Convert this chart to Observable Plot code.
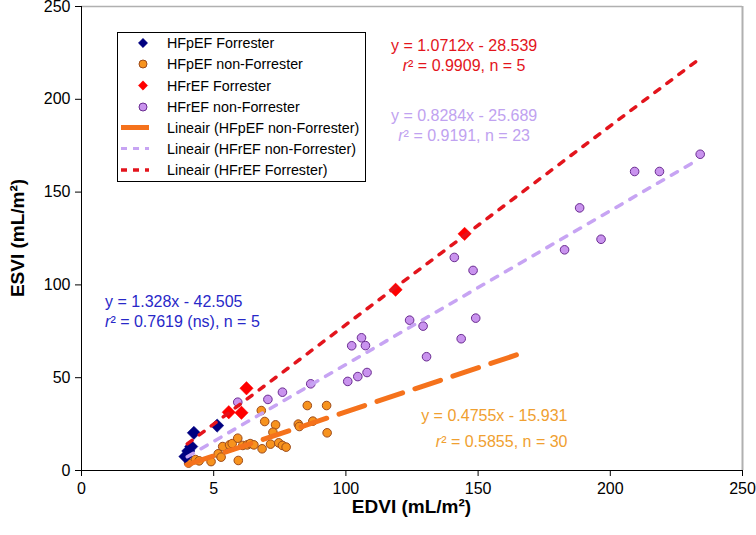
<!DOCTYPE html>
<html>
<head>
<meta charset="utf-8">
<script src="https://cdn.jsdelivr.net/npm/d3@7"></script>
<script src="https://cdn.jsdelivr.net/npm/@observablehq/plot@0.6"></script>
<style>
  html, body { margin: 0; padding: 0; background: #fff; }
  #chart { width: 756px; height: 535px; }
</style>
</head>
<body>
<div id="chart"></div>
<script>
// ---- Data ----
const xTicks = [0, 50, 100, 150, 200, 250];
const xTickLabels = ["0", "5", "100", "150", "200", "250"];
const yTicks = [0, 50, 100, 150, 200, 250];
const yTickLabels = ["0", "50", "100", "150", "200", "250"];

const seriesNames = ["HFpEF Forrester", "HFpEF non-Forrester", "HFrEF Forrester", "HFrEF non-Forrester"];

const hfpefForresterX = [39.3, 40.4, 41.5, 42.5, 51.3];
const hfpefForresterY = [7.5, 10.5, 12.9, 20.3, 24.2];

const hfpefNonX = [40.5, 43.1, 44.5, 49.0, 51.7, 52.8, 53.4, 56.0, 57.0, 59.1, 59.3, 61.0, 62.7, 63.8, 65.2,
                   68.3, 71.5, 74.6, 76.0, 77.4, 68.0, 69.3, 73.4, 72.4, 82.0, 82.4, 85.4, 87.5, 92.7, 92.9];
const hfpefNonY = [4.0, 5.9, 5.2, 4.8, 9.0, 7.2, 12.9, 13.8, 14.5, 17.4, 5.4, 13.5, 13.8, 14.5, 13.8,
                   11.7, 14.2, 14.9, 13.5, 12.6, 32.3, 26.4, 24.6, 20.6, 25.0, 23.7, 35.0, 26.6, 35.0, 20.3];

const hfrefForresterX = [55.7, 60.5, 62.4, 118.8, 144.9];
const hfrefForresterY = [31.4, 31.1, 44.3, 97.4, 127.5];

const hfrefNonX = [59.1, 70.5, 76.0, 86.7, 100.7, 104.5, 108.0, 102.2, 105.9, 107.4, 130.5, 124.1,
                   129.2, 143.6, 149.1, 141.0, 148.1, 188.4, 182.7, 196.5, 209.2, 218.6, 234.0];
const hfrefNonY = [36.8, 38.3, 42.2, 46.7, 48.0, 50.6, 52.8, 67.2, 71.5, 67.3, 61.3, 81.0,
                   77.8, 71.0, 82.1, 114.8, 107.8, 141.5, 118.9, 124.6, 161.1, 161.1, 170.4];

// Trend line end points
const trendNames = ["Lineair (HFpEF non-Forrester)", "Lineair (HFrEF non-Forrester)", "Lineair (HFrEF Forrester)"];
const trendX0 = [40, 40, 40];
const trendX1 = [165, 233, 233];
const trendY0 = [3.1, 7.4, 14.3];
const trendY1 = [62.5, 167.3, 221.0];

const eqLines = [
  ["y = 1.0712x - 28.539", "= 0.9909, n = 5"],
  ["y = 0.8284x - 25.689", "= 0.9191, n = 23"],
  ["y = 1.328x - 42.505", "= 0.7619 (ns), n = 5"],
  ["y = 0.4755x - 15.931", "= 0.5855, n = 30"]
];

// ---- Styles ----
const C = {
  navy: "#000080",
  orangeFill: "#f7931e", orangeStroke: "#9c4a1a",
  red: "#ff0000",
  purpleFill: "#c993ee", purpleStroke: "#6a2c91",
  lineOrange: "#f5721c", lineLav: "#c7a4f3", lineRed: "#e3141c",
  txtRed: "#e3141c", txtLav: "#c0a2f0", txtBlue: "#2828c8", txtOrange: "#f0a030"
};
const FONT = "'Liberation Sans', Arial, Helvetica, sans-serif";

const pts = (xs, ys) => xs.map((x, i) => ({x, y: ys[i]}));
const seg = (i) => [{x: trendX0[i], y: trendY0[i]}, {x: trendX1[i], y: trendY1[i]}];
const fmtX = d => xTickLabels[xTicks.indexOf(d)];
const fmtY = d => yTickLabels[yTicks.indexOf(d)];

const plot = Plot.plot({
  width: 756, height: 535,
  marginLeft: 81, marginRight: 14, marginTop: 6, marginBottom: 65,
  style: {fontFamily: FONT, fontSize: "16px", color: "#000", background: "#fff", overflow: "visible"},
  x: {domain: [0, 250]},
  y: {domain: [0, 250]},
  marks: [
    Plot.ruleY([250], {stroke: "#b0b0b0", strokeWidth: 1.5}),
    Plot.ruleX([250], {stroke: "#b0b0b0", strokeWidth: 2}),
    Plot.axisX({ticks: xTicks, tickFormat: fmtX, tickSize: 6, tickPadding: 6,
                label: null, fontSize: 16, stroke: "#000"}),
    Plot.axisY({ticks: yTicks, tickFormat: fmtY, tickSize: 6, tickPadding: 5,
                label: null, fontSize: 16, stroke: "#000"}),
    Plot.ruleX([0], {stroke: "#000", strokeWidth: 1}),
    Plot.ruleY([0], {stroke: "#000", strokeWidth: 1}),
    Plot.dot(pts(hfrefNonX, hfrefNonY), {x: "x", y: "y", r: 4.3, fill: C.purpleFill, stroke: C.purpleStroke, strokeWidth: 1}),
    Plot.dot(pts(hfpefNonX, hfpefNonY), {x: "x", y: "y", r: 4.3, fill: C.orangeFill, stroke: C.orangeStroke, strokeWidth: 1}),
    Plot.dot(pts(hfrefForresterX, hfrefForresterY), {x: "x", y: "y", r: 6, symbol: "diamond2", fill: C.red, stroke: C.red, strokeWidth: 0.5}),
    Plot.dot(pts(hfpefForresterX, hfpefForresterY), {x: "x", y: "y", r: 6, symbol: "diamond2", fill: C.navy, stroke: C.navy, strokeWidth: 0.5}),
    Plot.line(seg(0), {x: "x", y: "y", stroke: C.lineOrange, strokeWidth: 5, strokeDasharray: "27,13"}),
    Plot.line(seg(1), {x: "x", y: "y", stroke: C.lineLav, strokeWidth: 3.5, strokeDasharray: "7,9"}),
    Plot.line(seg(2), {x: "x", y: "y", stroke: C.lineRed, strokeWidth: 3.5, strokeDasharray: "6,9"})
  ]
});

document.getElementById("chart").appendChild(plot);

// ---- Extra text, legend via D3 using the plot's scales ----
const svg = d3.select(plot);
const sx = plot.scale("x"), sy = plot.scale("y");
const X = v => sx.apply(v), Y = v => sy.apply(v);

// axis titles
svg.append("text").attr("x", X(125)).attr("y", 513).attr("text-anchor", "middle")
  .attr("font-family", FONT).attr("font-weight", "bold").attr("font-size", 19).attr("fill", "#000")
  .text("EDVI (mL/m²)");
svg.append("text").attr("transform", `translate(24,${Y(125)}) rotate(-90)`).attr("text-anchor", "middle")
  .attr("font-family", FONT).attr("font-weight", "bold").attr("font-size", 19).attr("fill", "#000")
  .text("ESVI (mL/m²)");

// equation annotations (positions in data units)
function eq(xv, yv1, yv2, anchor, color, lines) {
  const g = svg.append("g").attr("font-family", FONT).attr("font-size", 16).attr("fill", color).attr("text-anchor", anchor);
  g.append("text").attr("x", X(xv)).attr("y", Y(yv1)).attr("dy", "0.35em").text(lines[0]);
  const t = g.append("text").attr("x", X(xv)).attr("y", Y(yv2)).attr("dy", "0.35em");
  t.append("tspan").attr("font-style", "italic").text("r");
  t.append("tspan").text("²");
  t.append("tspan").text(" " + lines[1]);
}
eq(144.9, 229.0, 218.2, "middle", C.txtRed, eqLines[0]);
eq(144.9, 191.3, 180.5, "middle", C.txtLav, eqLines[1]);
eq(9.1, 91.0, 80.0, "start", C.txtBlue, eqLines[2]);
eq(184.0, 29.5, 15.6, "end", C.txtOrange, eqLines[3]);

// legend box
const lg = svg.append("g").attr("font-family", FONT).attr("font-size", 14.3).attr("text-anchor", "start");
lg.append("rect").attr("x", 117.5).attr("y", 32.5).attr("width", 248).attr("height", 149)
  .attr("fill", "#fff").attr("stroke", "#000").attr("stroke-width", 1);
const rowY = [43, 64, 85.5, 107, 127.5, 148.5, 170];
const legendItems = [
  {name: seriesNames[0], kind: "diamond", fill: C.navy, stroke: C.navy},
  {name: seriesNames[1], kind: "circle", fill: C.orangeFill, stroke: C.orangeStroke},
  {name: seriesNames[2], kind: "diamond", fill: C.red, stroke: C.red},
  {name: seriesNames[3], kind: "circle", fill: C.purpleFill, stroke: C.purpleStroke},
  {name: trendNames[0], kind: "line", stroke: C.lineOrange, w: 5, dash: null},
  {name: trendNames[1], kind: "line", stroke: C.lineLav, w: 3, dash: "6,6"},
  {name: trendNames[2], kind: "line", stroke: C.lineRed, w: 3.5, dash: "6,6"}
];
legendItems.forEach((it, i) => {
  const y = rowY[i];
  if (it.kind === "diamond") {
    lg.append("path").attr("d", d3.symbol(d3.symbolDiamond2, 55)()).attr("transform", `translate(143,${y})`)
      .attr("fill", it.fill).attr("stroke", it.stroke).attr("stroke-width", 0.5);
  } else if (it.kind === "circle") {
    lg.append("circle").attr("cx", 143).attr("cy", y).attr("r", 4)
      .attr("fill", it.fill).attr("stroke", it.stroke).attr("stroke-width", 1);
  } else {
    const l = lg.append("line").attr("x1", 121).attr("x2", 149).attr("y1", y).attr("y2", y)
      .attr("stroke", it.stroke).attr("stroke-width", it.w);
    if (it.dash) l.attr("stroke-dasharray", it.dash);
  }
  lg.append("text").attr("x", 167).attr("y", y).attr("dy", "0.35em").attr("fill", "#000").text(it.name);
});
</script>
</body>
</html>
